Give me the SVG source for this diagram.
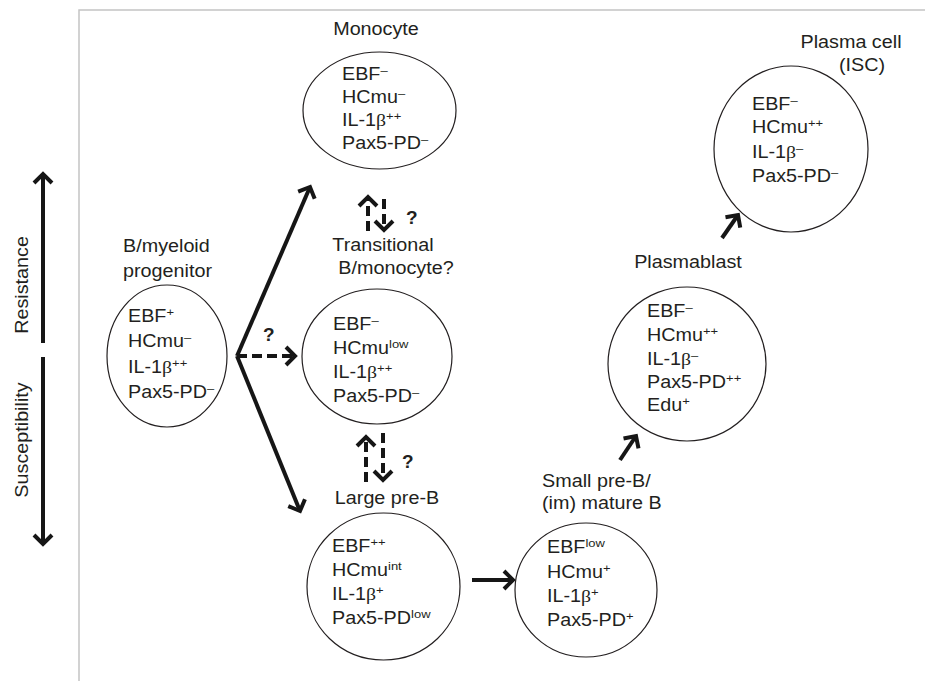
<svg xmlns="http://www.w3.org/2000/svg" width="925" height="681" viewBox="0 0 925 681">
<defs>
<marker id="ah" viewBox="-14 -12 18 24" refX="0" refY="0" markerWidth="18" markerHeight="24" markerUnits="userSpaceOnUse" orient="auto">
<path d="M-9,-9 L0,0 L-9,9" fill="none" stroke="#161616" stroke-width="4" stroke-linejoin="miter"/>
</marker>
</defs>
<style>
.t{font-family:"Liberation Sans",Arial,sans-serif;font-size:17.5px;fill:#231f20}
.n{fill:none;stroke:#231f20;stroke-width:1.2}
.c{stroke:#161616;stroke-width:4;fill:none;marker-end:url(#ah)}
.d{stroke-dasharray:10 5}
.q{font-family:"Liberation Sans",Arial,sans-serif;font-size:19px;font-weight:bold;fill:#231f20}
.s{font-size:11.5px}
.g{font-family:"Liberation Serif",serif}
</style>
<rect width="925" height="681" fill="#fff"/>
<path d="M79,681 V10 H925" stroke="#c4c4c4" stroke-width="1.5" fill="none"/>

<g id="axis">
<line class="c" x1="43" y1="343" x2="43" y2="174"/>
<line class="c" x1="43" y1="357" x2="43" y2="544"/>
<text class="t" transform="translate(28,285) rotate(-90) scale(1.13,1)" text-anchor="middle">Resistance</text>
<text class="t" transform="translate(28,440) rotate(-90) scale(1.13,1)" text-anchor="middle">Susceptibility</text>
</g>

<g id="connectors">
<line class="c" x1="237" y1="356" x2="310" y2="187"/>
<line class="c" x1="237" y1="356" x2="300" y2="511"/>
<line class="c d" x1="237" y1="356" x2="295" y2="356"/>
<line class="c d" x1="368" y1="231" x2="368" y2="197"/>
<line class="c d" x1="384" y1="199" x2="384" y2="230"/>
<line class="c d" x1="366" y1="482" x2="366" y2="437"/>
<line class="c d" x1="383" y1="433" x2="383" y2="480"/>
<line class="c" x1="472" y1="580" x2="513" y2="580"/>
<line class="c" x1="620" y1="460" x2="636" y2="436"/>
<line class="c" x1="722" y1="238" x2="738" y2="215"/>
<text class="q" x="406" y="224">?</text>
<text class="q" x="402" y="468">?</text>
<text class="q" x="263" y="341">?</text>
</g>

<g id="progenitor" class="t">
<g transform="matrix(1.13 0 0 1 123 0)">
<text y="252">B/myeloid</text>
<text y="277">progenitor</text>
</g>
<ellipse class="n" cx="167" cy="356" rx="60" ry="71"/>
<g transform="matrix(1.13 0 0 1 128 0)">
<text y="322">EBF<tspan class="s" dy="-6">+</tspan></text>
<text y="347">HCmu<tspan class="s" dy="-6">–</tspan></text>
<text y="373">IL-1<tspan class="g">β</tspan><tspan class="s" dy="-6">++</tspan></text>
<text y="398">Pax5-PD<tspan class="s" dy="-6">–</tspan></text>
</g>
</g>

<g id="monocyte" class="t">
<text transform="matrix(1.13 0 0 1 376 35)" text-anchor="middle">Monocyte</text>
<ellipse class="n" cx="379.5" cy="110.5" rx="76.5" ry="58.5"/>
<g transform="matrix(1.13 0 0 1 342 0)">
<text y="80">EBF<tspan class="s" dy="-6">–</tspan></text>
<text y="103">HCmu<tspan class="s" dy="-6">–</tspan></text>
<text y="126">IL-1<tspan class="g">β</tspan><tspan class="s" dy="-6">++</tspan></text>
<text y="149">Pax5-PD<tspan class="s" dy="-6">–</tspan></text>
</g>
</g>

<g id="transitional" class="t">
<text transform="matrix(1.13 0 0 1 383 251)" text-anchor="middle">Transitional</text>
<text transform="matrix(1.13 0 0 1 396 274)" text-anchor="middle">B/monocyte?</text>
<ellipse class="n" cx="377" cy="356.5" rx="75" ry="67.5"/>
<g transform="matrix(1.13 0 0 1 333 0)">
<text y="330">EBF<tspan class="s" dy="-6">–</tspan></text>
<text y="354">HCmu<tspan class="s" dy="-6">low</tspan></text>
<text y="378">IL-1<tspan class="g">β</tspan><tspan class="s" dy="-6">++</tspan></text>
<text y="402">Pax5-PD<tspan class="s" dy="-6">–</tspan></text>
</g>
</g>

<g id="large-pre-b" class="t">
<text transform="matrix(1.13 0 0 1 387 504)" text-anchor="middle">Large pre-B</text>
<ellipse class="n" cx="383.5" cy="586.5" rx="76.5" ry="73.5"/>
<g transform="matrix(1.13 0 0 1 332 0)">
<text y="552">EBF<tspan class="s" dy="-6">++</tspan></text>
<text y="576">HCmu<tspan class="s" dy="-6">int</tspan></text>
<text y="600">IL-1<tspan class="g">β</tspan><tspan class="s" dy="-6">+</tspan></text>
<text y="624">Pax5-PD<tspan class="s" dy="-6">low</tspan></text>
</g>
</g>

<g id="small-pre-b" class="t">
<g transform="matrix(1.13 0 0 1 542 0)">
<text y="487">Small pre-B/</text>
<text y="509">(im) mature B</text>
</g>
<ellipse class="n" cx="586" cy="590" rx="71" ry="67"/>
<g transform="matrix(1.13 0 0 1 547 0)">
<text y="553">EBF<tspan class="s" dy="-6">low</tspan></text>
<text y="578">HCmu<tspan class="s" dy="-6">+</tspan></text>
<text y="602">IL-1<tspan class="g">β</tspan><tspan class="s" dy="-6">+</tspan></text>
<text y="626">Pax5-PD<tspan class="s" dy="-6">+</tspan></text>
</g>
</g>

<g id="plasmablast" class="t">
<text transform="matrix(1.13 0 0 1 688 268)" text-anchor="middle">Plasmablast</text>
<ellipse class="n" cx="687" cy="364" rx="79" ry="77"/>
<g transform="matrix(1.13 0 0 1 647 0)">
<text y="317">EBF<tspan class="s" dy="-6">–</tspan></text>
<text y="341">HCmu<tspan class="s" dy="-6">++</tspan></text>
<text y="365">IL-1<tspan class="g">β</tspan><tspan class="s" dy="-6">–</tspan></text>
<text y="388">Pax5-PD<tspan class="s" dy="-6">++</tspan></text>
<text y="411">Edu<tspan class="s" dy="-6">+</tspan></text>
</g>
</g>

<g id="plasma-cell" class="t">
<text transform="matrix(1.13 0 0 1 851 48)" text-anchor="middle">Plasma cell</text>
<text transform="matrix(1.13 0 0 1 862 71)" text-anchor="middle">(ISC)</text>
<ellipse class="n" cx="791" cy="149" rx="77" ry="83"/>
<g transform="matrix(1.13 0 0 1 752 0)">
<text y="110">EBF<tspan class="s" dy="-6">–</tspan></text>
<text y="133">HCmu<tspan class="s" dy="-6">++</tspan></text>
<text y="158">IL-1<tspan class="g">β</tspan><tspan class="s" dy="-6">–</tspan></text>
<text y="182">Pax5-PD<tspan class="s" dy="-6">–</tspan></text>
</g>
</g>
</svg>
